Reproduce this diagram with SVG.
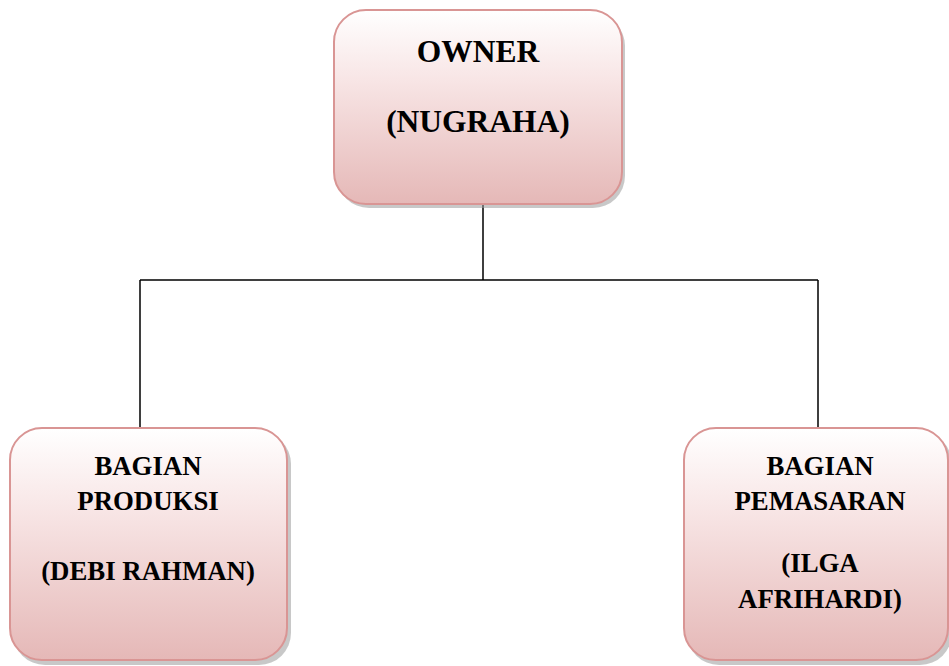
<svg xmlns="http://www.w3.org/2000/svg" width="949" height="666" viewBox="0 0 949 666">
<defs>
<linearGradient id="g" x1="0" y1="0" x2="0" y2="1">
<stop offset="0" stop-color="#ffffff"/>
<stop offset="0.35" stop-color="#f8e6e6"/>
<stop offset="1" stop-color="#e5b8b7"/>
</linearGradient>
</defs>
<style>
.box{fill:url(#g);stroke:#d99594;stroke-width:2}
.sh{fill:#9a9a9a;opacity:0.55}
.t{font-family:"Liberation Serif","Times New Roman",serif;font-weight:bold;fill:#000;text-anchor:middle}
.c{stroke:#000;stroke-width:1.5;fill:none}
</style>
<g id="connectors">
<path class="c" d="M483 204V280M140 280H818M140 280V429M818 280V429"/>
</g>
<g id="owner">
<rect class="sh" x="337" y="14" width="288" height="194" rx="32"/>
<rect class="box" x="334" y="10" width="288" height="194" rx="32"/>
<text class="t" x="478" y="62" font-size="31.5">OWNER</text>
<text class="t" x="478" y="132" font-size="31.5">(NUGRAHA)</text>
</g>
<g id="produksi">
<rect class="sh" x="13" y="432" width="278" height="233" rx="32"/>
<rect class="box" x="10" y="428" width="277" height="232" rx="32"/>
<text class="t" x="148" y="475" font-size="26.8">BAGIAN</text>
<text class="t" x="148" y="510" font-size="26.8">PRODUKSI</text>
<text class="t" x="148" y="580" font-size="26.8">(DEBI RAHMAN)</text>
</g>
<g id="pemasaran">
<rect class="sh" x="687" y="432" width="265" height="233" rx="32"/>
<rect class="box" x="684" y="428" width="264" height="232" rx="32"/>
<text class="t" x="820" y="475" font-size="26.8">BAGIAN</text>
<text class="t" x="820" y="510" font-size="26.8">PEMASARAN</text>
<text class="t" x="820" y="572" font-size="26.8">(ILGA</text>
<text class="t" x="820" y="608" font-size="26.8">AFRIHARDI)</text>
</g>
</svg>
